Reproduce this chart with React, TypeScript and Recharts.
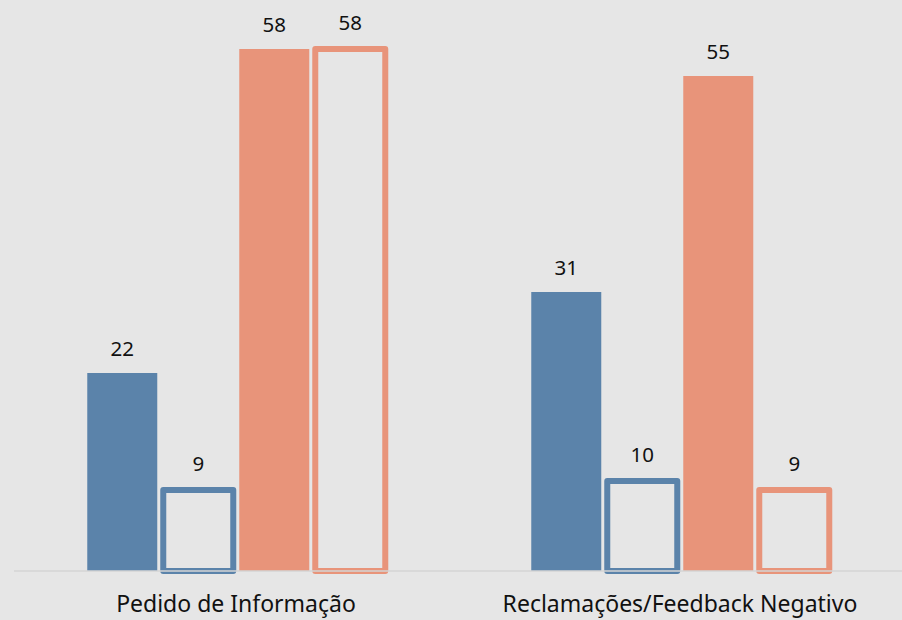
import { BarChart, Bar, XAxis, YAxis, LabelList } from 'recharts';

const CATEGORIAS = ['Pedido de Informação', 'Reclamações/Feedback Negativo'];
const AZUL_CHEIO = [22, 31];
const AZUL_VAZIO = [9, 10];
const SALMAO_CHEIO = [58, 55];
const SALMAO_VAZIO = [58, 9];

const dados = CATEGORIAS.map((nome, i) => ({
  nome,
  azulCheio: AZUL_CHEIO[i],
  azulVazio: AZUL_VAZIO[i],
  salmaoCheio: SALMAO_CHEIO[i],
  salmaoVazio: SALMAO_VAZIO[i],
}));

const AZUL = '#5b83aa';
const SALMAO = '#e8947a';
const FUNDO = '#e6e6e6';
const FONTE = '"Noto Sans", sans-serif';

const rotulo = { fill: '#111', fontSize: 20.5, fontFamily: FONTE };

export default function App() {
  return (
    <div style={{ position: 'absolute', left: 0, top: 0, width: 902, height: 620, background: FUNDO }}>
      <BarChart
        width={902}
        height={620}
        data={dados}
        margin={{ top: 31, right: 0, left: 14, bottom: 0 }}
        barGap={6}
        barCategoryGap="16.5%"
      >
        <XAxis
          dataKey="nome"
          height={49}
          axisLine={{ stroke: '#d4d4d4', strokeWidth: 1.5 }}
          tickLine={false}
          tick={{ fill: '#111', fontSize: 23, fontFamily: FONTE }}
          dy={17}
        />
        <YAxis hide domain={[0, 60]} />
        <Bar dataKey="azulCheio" fill={AZUL} isAnimationActive={false}>
          <LabelList dataKey="azulCheio" position="top" offset={17} style={rotulo} />
        </Bar>
        <Bar
          dataKey="azulVazio"
          fill={FUNDO}
          stroke={AZUL}
          strokeWidth={6}
          strokeLinejoin="round"
          isAnimationActive={false}
        >
          <LabelList dataKey="azulVazio" position="top" offset={19} style={rotulo} />
        </Bar>
        <Bar dataKey="salmaoCheio" fill={SALMAO} isAnimationActive={false}>
          <LabelList dataKey="salmaoCheio" position="top" offset={17} style={rotulo} />
        </Bar>
        <Bar
          dataKey="salmaoVazio"
          fill={FUNDO}
          stroke={SALMAO}
          strokeWidth={6}
          strokeLinejoin="round"
          isAnimationActive={false}
        >
          <LabelList dataKey="salmaoVazio" position="top" offset={19} style={rotulo} />
        </Bar>
      </BarChart>
    </div>
  );
}
